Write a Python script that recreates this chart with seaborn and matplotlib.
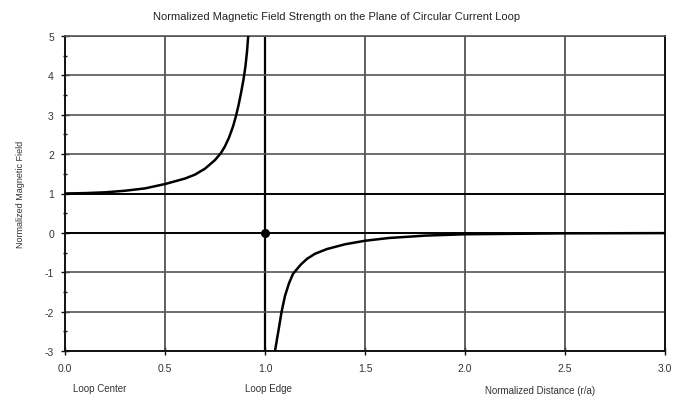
import matplotlib
matplotlib.use("Agg")
import matplotlib.pyplot as plt
import seaborn as sns
import pandas as pd

# Data
inner_r = [0.0, 0.1, 0.2, 0.3, 0.4, 0.5, 0.6, 0.65, 0.7, 0.75, 0.78, 0.8, 0.82, 0.84, 0.855, 0.868, 0.88, 0.892, 0.902, 0.91, 0.916]
inner_b = [1.0, 1.01, 1.03, 1.07, 1.13, 1.24, 1.38, 1.48, 1.63, 1.85, 2.03, 2.2, 2.42, 2.7, 2.97, 3.25, 3.55, 3.88, 4.22, 4.6, 5.0]
outer_r = [1.05, 1.07, 1.083, 1.1, 1.12, 1.14, 1.18, 1.21, 1.25, 1.31, 1.4, 1.5, 1.62, 1.8, 2.0, 2.5, 3.0]
outer_b = [-3.0, -2.4, -2.0, -1.6, -1.28, -1.04, -0.8, -0.66, -0.53, -0.41, -0.29, -0.2, -0.13, -0.07, -0.035, -0.012, -0.006]
x_ticks = [0.0, 0.5, 1.0, 1.5, 2.0, 2.5, 3.0]
y_ticks = [-3, -2, -1, 0, 1, 2, 3, 4, 5]
title = "Normalized Magnetic Field Strength on the Plane of Circular Current Loop"

sns.set_style("white")
plt.rcParams['font.family'] = ['Liberation Sans', 'DejaVu Sans']
plt.rcParams['xtick.bottom'] = True
plt.rcParams['ytick.left'] = True

fig = plt.figure(figsize=(6.73, 4.02), dpi=100)
ax = fig.add_axes([65/673, 1-352/402, 600/673, 315/402])

df_in = pd.DataFrame({"r": inner_r, "b": inner_b})
df_out = pd.DataFrame({"r": outer_r, "b": outer_b})

ax.set_xlim(0, 3)
ax.set_ylim(-3, 5)
ax.set_xticks(x_ticks)
ax.set_yticks(y_ticks)
ax.set_xticklabels([f"{v:.1f}" for v in x_ticks], fontsize=7.5, color='#333')
ax.set_yticklabels([str(v) for v in y_ticks], fontsize=7.5, color='#333')
ax.set_yticks([v + 0.5 for v in y_ticks[:-1]], minor=True)
ax.tick_params(axis='y', which='major', left=True, direction='inout', length=6, width=1, pad=5, color='#111')
ax.tick_params(axis='y', which='minor', left=True, direction='inout', length=3, width=1, color='#111')
ax.tick_params(axis='x', which='major', bottom=True, direction='inout', length=6, width=1, pad=6, color='#111')

for v in x_ticks[1:]:
    ax.axvline(v, color='#000' if v == 1.0 else '#444', lw=1.6 if v == 1.0 else 1.2, zorder=1)
for v in y_ticks:
    ax.axhline(v, color='#000' if v in (0, 1) else '#555', lw=1.4 if v in (0, 1) else 1.2, zorder=1)

sns.lineplot(data=df_in, x="r", y="b", ax=ax, color='black', lw=1.8, sort=False, zorder=3)
sns.lineplot(data=df_out, x="r", y="b", ax=ax, color='black', lw=1.8, sort=False, zorder=3)
ax.scatter([1.0], [0.0], s=30, color='black', zorder=4)

for s in ['left', 'bottom', 'right']:
    ax.spines[s].set_color('#111')
    ax.spines[s].set_linewidth(1.4)
ax.spines['top'].set_color('#555')
ax.spines['top'].set_linewidth(1.2)

ax.set_xlabel("")
ax.set_ylabel("Normalized Magnetic Field", fontsize=6.5, color='#333', labelpad=14)
fig.text(0.5, 1-17/402, title, ha='center', va='center', fontsize=8, color='#222')
fig.text(100/673, 1-389/402, "Loop Center", ha='center', va='center', fontsize=7, color='#333')
fig.text(268/673, 1-389/402, "Loop Edge", ha='center', va='center', fontsize=7, color='#333')
fig.text(540/673, 1-391/402, "Normalized Distance (r/a)", ha='center', va='center', fontsize=7, color='#333')

fig.savefig("out.png", dpi=100)
